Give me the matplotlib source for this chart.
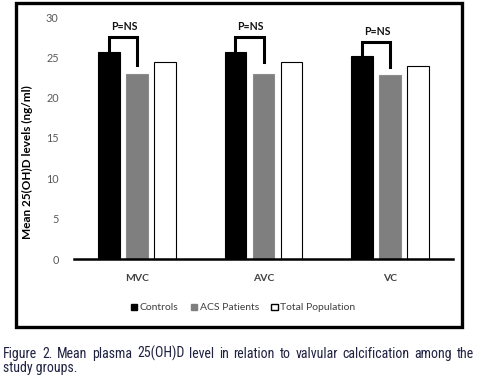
import matplotlib
matplotlib.use("Agg")
import matplotlib.pyplot as plt
from matplotlib.patches import Rectangle, Patch
from matplotlib import font_manager
import numpy as np

categories = ["MVC", "AVC", "VC"]
series_names = ["Controls", "ACS Patients", "Total Population"]
controls = [25.7, 25.7, 25.2]
acs = [22.9, 22.9, 22.8]
total = [24.4, 24.4, 23.9]
bracket_top = [27.5, 27.5, 26.9]
bracket_right_end = [24.0, 24.4, 23.8]
p_label = "P=NS"
yticks = [0, 5, 10, 15, 20, 25, 30]
ylabel = "Mean 25(OH)D levels (ng/ml)"
caption_line1 = "Figure 2. Mean plasma 25(OH)D level in relation to valvular calcification among the"
caption_line2 = "study groups."

W, H = 486, 386
fig = plt.figure(figsize=(W / 100, H / 100), dpi=100)
fig.patch.set_facecolor("white")

def fx(px):
    return px / W

def fy(py):
    return 1 - py / H

ax = fig.add_axes([fx(74), fy(259), fx(453) - fx(74), fy(17) - fy(259)])
chart_font = ["Lato", "DejaVu Sans"]

x = np.arange(len(categories))
off = 0.222
bw = 0.172
colors = ["#000000", "#7f7f7f", "#ffffff"]
edges = ["#000000", "#8c8c8c", "#000000"]
for i, (vals, c, e) in enumerate(zip([controls, acs, total], colors, edges)):
    ax.bar(x + (i - 1) * off, vals, width=bw, color=c, edgecolor=e, linewidth=0.8, zorder=2)

for i in range(len(categories)):
    xl = x[i] - off
    xr = x[i]
    ax.plot([xl, xl, xr, xr], [controls[i], bracket_top[i], bracket_top[i], bracket_right_end[i]],
            color="black", lw=2.2, solid_joinstyle="miter", zorder=3)
    ax.text((xl + xr) / 2 + 0.01, bracket_top[i] + 1.3, p_label, ha="center", va="center",
            fontsize=7.6, fontweight="bold", family=chart_font, color="#111111")

ax.set_xlim(-0.5, 2.5)
ax.set_ylim(0, 30)
ax.set_yticks(yticks)
ax.set_yticklabels([str(t) for t in yticks], family=chart_font, fontsize=7.8, color="#595959")
ax.set_xticks(x)
ax.set_xticklabels(categories, family=chart_font, fontsize=7.5, fontweight="bold", color="#404040")
ax.tick_params(axis="y", length=0, pad=11)
ax.tick_params(axis="x", length=0, pad=11)
for s in ["top", "right", "left"]:
    ax.spines[s].set_visible(False)
ax.spines["bottom"].set_linewidth(1.8)
ax.spines["bottom"].set_zorder(4)
ax.set_facecolor("none")

ax.set_ylabel(ylabel, family=chart_font, fontsize=8.5, fontweight="bold", color="black")
ax.yaxis.set_label_coords(-0.108, 0.40)

handles = [Patch(facecolor=c, edgecolor=e, linewidth=1.0) for c, e in zip(colors, ["#000000", "#7f7f7f", "#000000"])]
leg = fig.legend(handles, series_names, loc="center", bbox_to_anchor=(fx(243), fy(308)),
                 ncol=3, frameon=False, handlelength=0.6, handleheight=0.6, handletextpad=0.25,
                 columnspacing=1.2, prop={"family": chart_font, "size": 7.5})
for t in leg.get_texts():
    t.set_color("#404040")

frame = Rectangle((fx(16), fy(327)), fx(462) - fx(16), fy(3) - fy(327), transform=fig.transFigure,
                  fill=False, edgecolor="black", linewidth=2.4)
fig.add_artist(frame)

# caption font: prefer a narrow family if present
cap_font = "Roboto"
for cand in ["Liberation Sans Narrow", "Roboto Condensed", "Open Sans Condensed", "DejaVu Sans Condensed"]:
    try:
        font_manager.findfont(font_manager.FontProperties(family=cand), fallback_to_default=False)
        cap_font = cand
        break
    except Exception:
        pass

cap_color = "#1f2140"
left_px, right_px = 3, 474
r = fig.canvas.get_renderer()
words = caption_line1.split(" ")
cap_size = 10.0
while True:
    probe = [fig.text(0, 0, w, fontsize=cap_size, family=cap_font) for w in words]
    widths = [t.get_window_extent(r).width for t in probe]
    sp = fig.text(0, 0, "a a", fontsize=cap_size, family=cap_font)
    sp2 = fig.text(0, 0, "aa", fontsize=cap_size, family=cap_font)
    space_w = sp.get_window_extent(r).width - sp2.get_window_extent(r).width
    for t in probe + [sp, sp2]:
        t.remove()
    if sum(widths) + space_w * 1.2 * (len(words) - 1) <= right_px - left_px or cap_size < 6:
        break
    cap_size -= 0.1

gap = (right_px - left_px - sum(widths)) / (len(words) - 1)
pos = left_px
for w, wd in zip(words, widths):
    fig.text(fx(pos), fy(358), w, fontsize=cap_size, family=cap_font, color=cap_color, va="baseline")
    pos += wd + gap
fig.text(fx(left_px), fy(372), caption_line2, fontsize=cap_size, family=cap_font, color=cap_color,
         va="baseline")

fig.savefig("out.png", dpi=100)
